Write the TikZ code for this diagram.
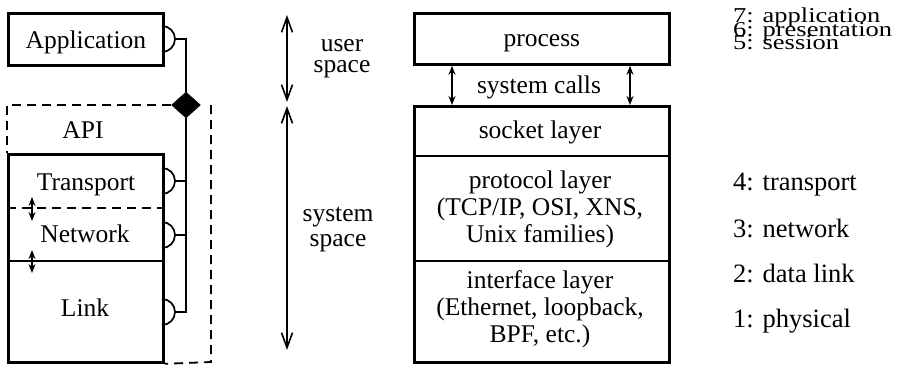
\documentclass[tikz,border=0pt]{standalone}
\usepackage{fontspec}
\setmainfont{Liberation Serif}
\usetikzlibrary{arrows.meta,shapes.geometric}
\newcommand\squash[1]{\scalebox{1}[0.8]{#1}}
\begin{document}
\begin{tikzpicture}[x=1pt,y=-1pt,
  txt/.style={inner sep=0pt, font=\fontsize{25.5}{27}\selectfont},
  osi/.style={inner sep=0pt, anchor=base west, font=\fontsize{26.5}{27}\selectfont},
  frame/.style={draw, line width=2.8pt, inner sep=0pt},
  divider/.style={line width=1.8pt},
  wire/.style={line width=1.7pt},
  dashline/.style={line width=1.8pt, dash pattern=on 9pt off 6pt},
  span/.style={line width=1.6pt,
    {Straight Barb[length=15pt,width=11pt]}-{Straight Barb[length=15pt,width=11pt]}},
  hop/.style={line width=1.6pt,
    {Stealth[length=9pt,width=7pt]}-{Stealth[length=9pt,width=7pt]}},
]
\useasboundingbox (0,0) rectangle (900,365);

% ---------- left: application above the kernel protocol stack ----------
\node[frame, txt, anchor=north west, minimum width=155pt,
      text height=35pt, text depth=17pt] (app) at (7,12) {Application};
\node[frame, anchor=north west, minimum width=155pt, minimum height=208pt]
      (stack) at (7,153) {};
\node[txt, anchor=base] (transport) at (86,190.5) {Transport};
\node[txt, anchor=base] (network)   at (85,242.5) {Network};
\node[txt, anchor=base] (link)      at (85,316.5) {Link};
\draw[divider, dash pattern=on 9pt off 6pt] (7,208) -- (162,208);
\draw[divider] (7,261) -- (162,261);

% layer-to-layer arrows
\coordinate (ta1) at (32,197);  \coordinate (tb1) at (32,221);
\coordinate (ta2) at (32,250);  \coordinate (tb2) at (32,273);
\draw[hop] (ta1) -- (tb1);
\draw[hop] (ta2) -- (tb2);

% API boundary
\node[draw, fill=black, diamond, inner sep=0pt, minimum width=29pt,
      minimum height=26pt] (diam) at (186,105) {};
\node[txt, anchor=base] (api) at (83,138) {API};
\coordinate (apiNW) at (7,105);
\coordinate (apiNE) at (211,105);
\coordinate (apiSE) at (211,362);
\draw[dashline] (diam.west) -- (apiNW) -- (stack.north west);
\draw[dashline] (apiNE) -- (apiSE) -- (stack.south east);

% plugs on the right side of each layer
\foreach \n/\y in {App/39, Tr/181, Nw/235, Lk/312} {
  \draw[wire] (162,\y-13) arc[start angle=90, end angle=-90, radius=13pt];
  \coordinate (tip\n) at (175,\y);
}
\draw[wire] (tipApp) -| (diam.north);
\draw[wire] (diam.south) |- (tipLk);
\draw[wire] (tipTr) -- (tipTr -| diam.south);
\draw[wire] (tipNw) -- (tipNw -| diam.south);

% ---------- middle: user / system space ----------
\coordinate (usrTop) at (287,15);  \coordinate (usrBot) at (287,102);
\coordinate (sysTop) at (287,106); \coordinate (sysBot) at (287,350);
\draw[span] (usrTop) -- (usrBot);
\draw[span] (sysTop) -- (sysBot);
\node[txt, align=center] (usr) at (342,59) {user\\[-6pt]space};
\node[txt, align=center] (sys) at (338,230) {system\\[-2pt]space};

% ---------- right: kernel implementation ----------
\node[frame, txt, anchor=north west, minimum width=255pt,
      text height=33pt, text depth=18pt] (proc) at (413,12) {process};
\node[frame, anchor=north west, minimum width=255pt, minimum height=256pt]
      (kern) at (413,105) {};
\node[txt, anchor=base] (sc) at (539,93) {system calls};
\coordinate (scL) at (452,0);
\coordinate (scR) at (630,0);
\draw[hop] (proc.south -| scL) -- (kern.north -| scL);
\draw[hop] (proc.south -| scR) -- (kern.north -| scR);

\node[txt, anchor=base] (sock) at (540,138) {socket layer};
\draw[divider] (413,156) -- (668,156);
\node[txt, align=center] (proto) at (540,209)
  {protocol layer\\(TCP/IP, OSI, XNS,\\Unix families)};
\draw[divider] (413,261) -- (668,261);
\node[txt, align=center] (iface) at (540,309)
  {interface layer\\(Ethernet, loopback,\\BPF, etc.)};

% ---------- OSI reference model ----------
\node[osi] (o7) at (733,22.5) {\squash{7: application}};
\node[osi] (o6) at (733,36)   {\squash{6: presentation}};
\node[osi] (o5) at (733,49.5) {\squash{5: session}};
\node[osi] (o4) at (733,190)  {4: transport};
\node[osi] (o3) at (733,237)  {3: network};
\node[osi] (o2) at (733,282)  {2: data link};
\node[osi] (o1) at (733,327)  {1: physical};
\end{tikzpicture}
\end{document}
